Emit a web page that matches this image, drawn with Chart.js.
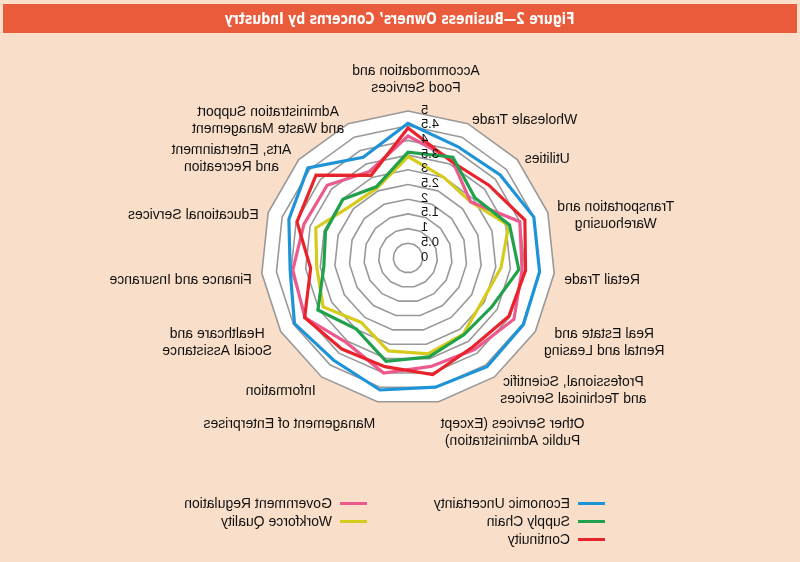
<!DOCTYPE html>
<html>
<head>
<meta charset="utf-8">
<script src="https://cdn.jsdelivr.net/npm/chart.js@4.4.1/dist/chart.umd.min.js"></script>
<style>
  html, body { margin: 0; padding: 0; background: #ffffff; }
  /* the reference figure is a mirror image, so the whole panel is flipped */
  #panel {
    position: relative; width: 800px; height: 562px; overflow: hidden;
    background: #f9dfc9; transform: scaleX(-1);
  }
  #header {
    position: absolute; left: 3px; top: 4px; width: 794px; height: 29px;
    background: #e95b3b; text-align: center;
  }
  #title {
    display: inline-block; color: #ffffff; font: bold 16px "Liberation Sans Narrow", "DejaVu Sans Condensed", "Liberation Sans", Arial, sans-serif;
    line-height: 29px; white-space: nowrap; transform-origin: center center;
  }
  #chart { position: absolute; left: 0; top: 0; }
  .legend-item {
    position: absolute; height: 18px; line-height: 18px; white-space: nowrap;
    font: 14px "Liberation Sans", Arial, sans-serif; color: #111111;
  }
  .legend-item span.swatch {
    display: inline-block; width: 27px; height: 3px; vertical-align: middle; margin-right: 8px; position: relative; top: -1px;
  }
</style>
</head>
<body>
<div id="panel">
  <div id="header"><span id="title">Figure 2—Business Owners’ Concerns by Industry</span></div>
  <canvas id="chart" width="800" height="562"></canvas>
  <div id="legend"></div>
</div>
<script>
// Kategorier (medurs från toppen, som i originalet före spegling)
const categories = [
    ['Accommodation and', 'Food Services'],
    ['Administration Support', 'and Waste Management'],
    ['Arts, Entertainment', 'and Recreation'],
    ['Educational Services'],
    ['Finance and Insurance'],
    ['Healthcare and', 'Social Assistance'],
    ['Information'],
    ['Management of Enterprises'],
    ['Other Services (Except', 'Public Administration)'],
    ['Professional, Scientific', 'and Techinical Services'],
    ['Real Estate and', 'Rental and Leasing'],
    ['Retail Trade'],
    ['Transportation and', 'Warehousing'],
    ['Utilities'],
    ['Wholesale Trade']
];

const tickValues = [0, 0.5, 1, 1.5, 2, 2.5, 3, 3.5, 4, 4.5, 5];

// Serier
const seriesNames = ['Economic Uncertainty', 'Supply Chain', 'Continuity', 'Government Regulation', 'Workforce Quality'];
const seriesColors = ['#1e93d8', '#1fa24b', '#e8232b', '#ec5a8d', '#d6cb1c'];

const economicUncertainty = [4.58, 3.75, 4.58, 4.26, 4.03, 4.46, 4.30, 4.59, 4.49, 4.57, 4.53, 4.50, 4.50, 4.22, 4.15];
const supplyChain         = [3.60, 2.65, 2.98, 2.95, 2.88, 3.54, 2.99, 3.59, 3.44, 3.23, 3.30, 3.79, 3.63, 3.06, 3.75];
const continuity          = [4.42, 3.08, 4.21, 3.97, 3.33, 4.06, 3.83, 3.78, 4.05, 3.74, 3.96, 4.02, 4.18, 3.70, 3.60];
const governmentRegulation= [4.15, 3.22, 3.70, 3.72, 3.94, 4.05, 3.56, 4.00, 3.77, 3.85, 4.16, 3.90, 4.00, 2.86, 3.67];
const workforceQuality    = [3.45, 2.60, 2.64, 3.30, 3.12, 3.33, 2.71, 3.23, 3.33, 3.20, 2.92, 3.18, 3.60, 2.86, 3.00];

const seriesValues = [economicUncertainty, supplyChain, continuity, governmentRegulation, workforceQuality];

// Titeln är smalt satt i originalet – pressa ihop den till rätt bredd
const titleEl = document.getElementById('title');
const titleW = titleEl.getBoundingClientRect().width;
if (titleW > 0) titleEl.style.transform = 'scaleX(' + (350 / titleW) + ')';

// Egen ritning av axeltexter (Chart.js hoppar över "0" och lägger etiketterna annorlunda)
const radarText = {
    id: 'radarText',
    afterDraw(chart) {
        const scale = chart.scales.r;
        const ctx = chart.ctx;
        ctx.save();
        ctx.fillStyle = '#111111';

        // tick-etiketter
        ctx.font = '13px "Liberation Sans", Arial, sans-serif';
        ctx.textAlign = 'right';
        ctx.textBaseline = 'middle';
        tickValues.forEach(v => {
            const y = scale.yCenter - scale.getDistanceFromCenterForValue(v);
            ctx.fillText(String(v), scale.xCenter - 13, y - 1);
        });

        // kategorietiketter
        ctx.font = '14px "Liberation Sans", Arial, sans-serif';
        ctx.textAlign = 'center';
        const lineH = 17;
        categories.forEach((lines, i) => {
            const deg = i * 360 / categories.length;
            const p = scale.getPointPosition(i, scale.drawingArea + 10);
            const w = Math.max(...lines.map(l => ctx.measureText(l).width));
            const h = lines.length * lineH;
            let left;
            if (deg === 0) left = p.x - w / 2 - 8;
            else if (deg === 180) left = p.x - w / 2;
            else if (deg < 180) left = p.x;
            else left = p.x - w;
            let top;
            if (deg === 0) top = p.y - 4 - h;
            else if (Math.abs(deg - 180) < 30) top = p.y + 4;
            else top = p.y + 6 - h / 2;
            lines.forEach((l, k) => ctx.fillText(l, left + w / 2, top + lineH * k + lineH / 2));
        });
        ctx.restore();
    }
};

const ctx = document.getElementById('chart');
new Chart(ctx, {
    type: 'radar',
    data: {
        labels: categories,
        datasets: seriesNames.map((name, k) => ({
            label: name,
            data: seriesValues[k],
            borderColor: seriesColors[k],
            backgroundColor: seriesColors[k],
            borderWidth: 3.2,
            pointRadius: 0,
            pointHoverRadius: 0,
            fill: false,
            tension: 0
        }))
    },
    options: {
        responsive: false,
        animation: false,
        devicePixelRatio: 1,
        layout: { padding: { left: 245, right: 261, top: 111, bottom: 157 } },
        plugins: {
            legend: { display: false },
            tooltip: { enabled: false }
        },
        scales: {
            r: {
                min: 0,
                max: 5,
                backgroundColor: '#ffffff',
                ticks: { display: false, stepSize: 0.5 },
                grid: { color: '#999999', lineWidth: 1.6 },
                angleLines: { display: false },
                pointLabels: { display: false }
            }
        }
    },
    plugins: [radarText]
});

// Förklaring i två kolumner (kolumnvis som i originalet)
const legendEl = document.getElementById('legend');
const legendSpots = [[195, 495], [195, 513], [195, 531], [433, 495], [433, 513]];
seriesNames.forEach((name, k) => {
    const item = document.createElement('div');
    item.className = 'legend-item';
    item.style.left = legendSpots[k][0] + 'px';
    item.style.top = legendSpots[k][1] + 'px';
    item.innerHTML = '<span class="swatch" style="background:' + seriesColors[k] + '"></span>' + name;
    legendEl.appendChild(item);
});
</script>
</body>
</html>
